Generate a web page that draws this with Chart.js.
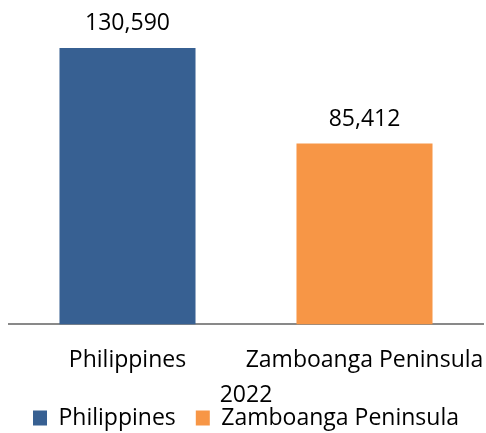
<!DOCTYPE html>
<html>
<head>
<meta charset="utf-8">
<script src="https://cdn.jsdelivr.net/npm/chart.js@4"></script>
<style>
  html, body { margin: 0; padding: 0; background: #fff; overflow: hidden; }
  #wrap { width: 486px; height: 449px; position: relative; }
</style>
</head>
<body>
<div id="wrap"><canvas id="chart"></canvas></div>
<script>
// chart data
const categories = ['Philippines', 'Zamboanga Peninsula'];
const seriesNames = ['Philippines', 'Zamboanga Peninsula'];
const values = [130590, 85412];
const colors = ['#376092', '#F79646'];
const yearTitle = '2022';

const FONT = "'Open Sans', sans-serif";

// value labels above each bar
const barLabels = {
    id: 'barLabels',
    afterDatasetsDraw(chart) {
        const ctx = chart.ctx;
        ctx.save();
        ctx.font = `23px ${FONT}`;
        ctx.fillStyle = '#000';
        ctx.textAlign = 'center';
        ctx.textBaseline = 'alphabetic';
        chart.data.datasets.forEach((ds, i) => {
            const meta = chart.getDatasetMeta(i);
            meta.data.forEach((bar, j) => {
                if (ds.data[j] == null) return;
                ctx.fillText(ds.data[j].toLocaleString('en-US'), bar.x, bar.y - 18);
            });
        });
        ctx.restore();
    }
};

// one dataset per series so legend shows both; each sits in its own category
const datasets = seriesNames.map((name, i) => ({
    label: name,
    data: categories.map((c, j) => (j === i ? values[i] : null)),
    backgroundColor: colors[i],
    borderWidth: 0,
    barPercentage: 0.574,
    categoryPercentage: 1
}));

new Chart(document.getElementById('chart'), {
    type: 'bar',
    data: { labels: categories, datasets },
    options: {
        responsive: true,
        maintainAspectRatio: false,
        animation: false,
        layout: { padding: { top: 28, left: 9, right: 3, bottom: 0 } },
        plugins: {
            legend: {
                position: 'bottom',
                weight: 2000,
                labels: {
                    color: '#000',
                    font: { family: FONT, size: 23 },
                    boxWidth: 14,
                    boxHeight: 15,
                    padding: 20
                }
            },
            title: {
                display: true,
                text: yearTitle,
                position: 'bottom',
                weight: 1000,
                color: '#000',
                font: { family: FONT, size: 23, weight: 'normal' },
                padding: { top: -14, bottom: -23 }
            },
            tooltip: { enabled: false }
        },
        scales: {
            x: {
                stacked: true,
                grid: { display: false, drawTicks: false },
                border: { display: true, color: '#898989', width: 2 },
                ticks: { color: '#000', font: { family: FONT, size: 23 }, padding: 22, maxRotation: 0, autoSkip: false },
                afterFit(scale) { scale.paddingLeft = 0; scale.paddingRight = 0; }
            },
            y: {
                stacked: true,
                display: false,
                min: 0,
                max: 140000
            }
        }
    },
    plugins: [barLabels]
});
</script>
</body>
</html>
